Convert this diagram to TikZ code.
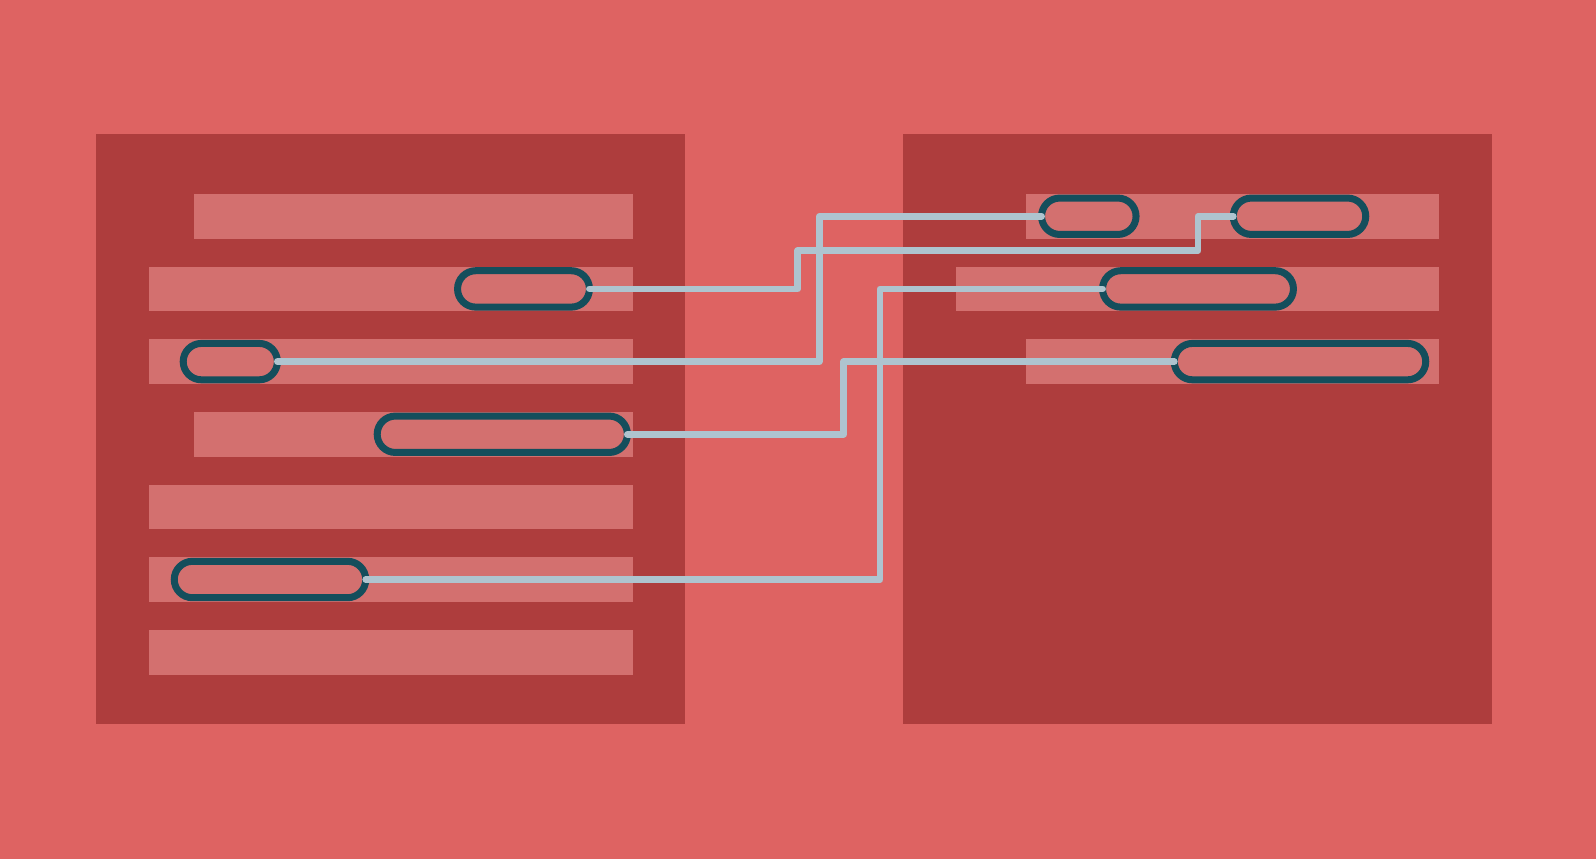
\documentclass[tikz,border=0pt]{standalone}
\usetikzlibrary{shapes.misc}
\definecolor{bgred}{RGB}{222,99,98}
\definecolor{panelred}{RGB}{174,61,61}
\definecolor{barred}{RGB}{211,112,111}
\definecolor{pilledge}{RGB}{20,78,92}
\definecolor{wireblue}{RGB}{174,196,207}
\begin{document}
\begin{tikzpicture}[x=0.5pt,y=-0.5pt,
	pill/.style={shape=rounded rectangle,draw=pilledge,line width=3.5pt,minimum height=18.2pt,inner sep=0pt,outer sep=0pt},
	wire/.style={draw=wireblue,line width=3.4pt,line cap=round,line join=round}]

	\fill[bgred] (0,0) rectangle (1596,859);
	\useasboundingbox (0,0) rectangle (1596,859);

	% the two panels
	\fill[panelred] (96,134.4) rectangle (685,723.7);
	\fill[panelred] (903,134.4) rectangle (1492,723.7);

	% rows
	\foreach \y/\x in {194/193.5, 266.7/149, 339.3/149, 412/193.5, 484.7/149, 557.3/149, 630/149}
		\fill[barred] (\x,\y) rectangle (632.7,\y+44.5);
	\foreach \y/\x in {194/1026, 266.7/956, 339.3/1026}
		\fill[barred] (\x,\y) rectangle (1439,\y+44.5);

	\node[pill,minimum width=65.95pt]  (l2) at (523.5, 288.9)  {};
	\node[pill,minimum width=47.1pt]   (l3) at (230.3, 361.6)  {};
	\node[pill,minimum width=125.1pt]  (l4) at (502.3, 434.25) {};
	\node[pill,minimum width=95.75pt]  (l6) at (270, 579.5)    {};
	\node[pill,minimum width=47.25pt]  (r1a) at (1088.8, 216.25) {};
	\node[pill,minimum width=66.25pt]  (r1b) at (1299.5, 216.25) {};
	\node[pill,minimum width=95.45pt]  (r2) at (1198, 288.9)   {};
	\node[pill,minimum width=125.75pt] (r3) at (1300, 361.6)   {};

	\path[wire] (l2.east) -| (797.7,250.7) -| (1198,216.25) -- (r1b.west);
	\path[wire] (l3.east) -| (819.3,216.25) -- (r1a.west);
	\path[wire] (l4.east) -| (843.8,361.6) -- (r3.west);
	\path[wire] (l6.east) -| (880,288.9) -- (r2.west);
\end{tikzpicture}
\end{document}
